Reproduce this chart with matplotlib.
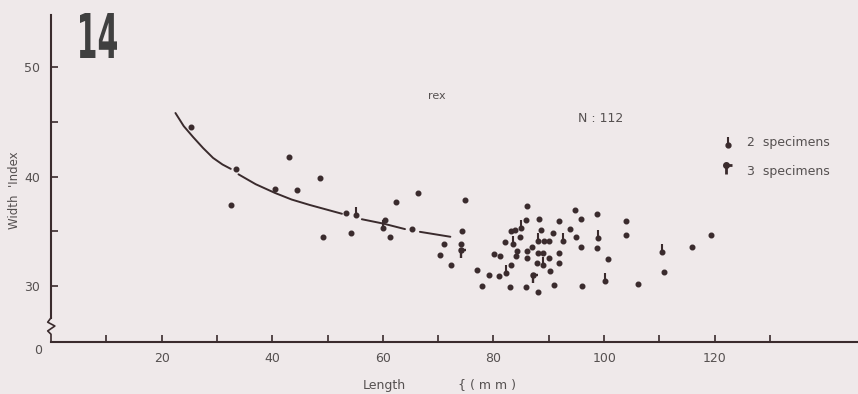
import matplotlib.pyplot as plt
import matplotlib.transforms as mtransforms
from matplotlib.path import Path
from matplotlib.patches import PathPatch
from matplotlib.textpath import TextPath
from matplotlib.font_manager import FontProperties

# single specimens: length (mm), width index
single_len = [25.3, 33.4, 32.5, 43.0, 48.7, 40.5, 44.4, 62.3, 53.3, 60.4, 61.3, 49.2, 54.3,
              66.3, 74.8, 65.2, 74.3, 71.1, 74.1, 70.3, 72.3, 77.1, 79.2, 81.0, 77.9, 80.1,
              81.2, 82.0, 83.1, 83.9, 85.9, 86.0, 84.8, 84.3, 84.0, 83.1, 83.0, 86.0, 86.0,
              85.8, 87.0, 88.2, 88.5, 89.1, 90.1, 90.8, 88.0, 88.9, 90.1, 87.8, 90.2, 88.1,
              90.9, 91.9, 91.9, 91.9, 93.9, 94.7, 95.9, 94.9, 95.8, 96.0, 98.7, 98.7, 100.7,
              104.0, 103.9, 106.1, 110.8, 115.9, 119.4]
single_wi = [44.55, 40.68, 37.4, 41.75, 39.9, 38.9, 38.77, 37.7, 36.64, 36.0, 34.45, 34.5, 34.8,
             38.5, 37.9, 35.2, 35.0, 33.8, 33.8, 32.8, 31.9, 31.5, 31.0, 30.9, 30.0, 32.9,
             32.7, 34.0, 35.0, 35.1, 36.0, 37.3, 34.5, 33.2, 32.7, 31.9, 29.9, 33.2, 32.6,
             29.9, 33.6, 36.1, 35.1, 34.1, 34.1, 34.8, 33.0, 33.0, 32.6, 32.1, 31.4, 29.5,
             30.1, 35.9, 33.0, 32.1, 35.2, 36.9, 36.1, 34.5, 33.6, 30.0, 36.6, 33.5, 32.5,
             35.9, 34.7, 30.2, 31.3, 33.6, 34.7]

# two specimens at one point
two_len = [55.2, 60.0, 84.9, 83.5, 82.3, 88.1, 89.0, 92.5, 98.9, 100.1, 110.4]
two_wi = [36.5, 35.3, 35.3, 33.8, 31.2, 34.1, 31.9, 34.1, 34.4, 30.5, 33.1]

# three specimens at one point
three_len = [74.1, 87.1]
three_wi = [33.3, 31.0]

# hand drawn curve, read in pieces (it is broken where it passes dots)
curve_len = [[22.5, 24.0, 25.7, 27.5, 29.3, 31.0, 32.5],
             [33.9, 37.0, 40.5, 43.5, 46.8, 49.7, 52.6],
             [56.2, 60.1, 64.0],
             [66.7, 72.2]]
curve_wi = [[45.8, 44.6, 43.6, 42.6, 41.7, 41.1, 40.7],
            [40.2, 39.3, 38.5, 37.9, 37.4, 37.0, 36.6],
            [36.1, 35.7, 35.2],
            [34.95, 34.5]]

x_ticks = list(range(10, 140, 10))
y_ticks = [30, 40, 50]
y_minor = [35, 45]

INK = '#3a2b2d'
TXT = '#555050'
BG = '#efe9ea'

fig = plt.figure(figsize=(8.58, 3.94), dpi=100, facecolor=BG)
ax = fig.add_axes([51 / 858, 1 - 342 / 394, 1 - 51 / 858, (342 - 15) / 394])
ax.set_facecolor(BG)
ax.set_xlim(0, 145.9)
ax.set_ylim(24.89, 54.75)

# markers: a stem for two specimens, a flag for three
stem = Path([(0, 0), (0, 1)], [Path.MOVETO, Path.LINETO])
flag = Path([(0.7, 0), (0, 0), (0, -1)], [Path.MOVETO, Path.LINETO, Path.LINETO])

ax.scatter(single_len, single_wi, s=11, color=INK, zorder=3)
ax.scatter(two_len, two_wi, s=11, color=INK, zorder=3)
ax.plot(two_len, two_wi, ls='none', marker=stem, ms=11, mew=1.5, mec=INK, mfc='none', zorder=3)
ax.scatter(three_len, three_wi, s=13, color=INK, zorder=3)
ax.plot(three_len, three_wi, ls='none', marker=flag, ms=11, mew=1.7, mec=INK, mfc='none',
        zorder=3)

for cx, cy in zip(curve_len, curve_wi):
    ax.plot(cx, cy, color=INK, lw=1.4, solid_capstyle='round', solid_joinstyle='round')

# spines
for s in ['top', 'right', 'left']:
    ax.spines[s].set_visible(False)
ax.spines['bottom'].set_color(INK)
ax.spines['bottom'].set_linewidth(1.5)

# left axis drawn by hand with the break near the bottom
ax.plot([0, 0], [54.75, 27.1], color=INK, lw=1.5, clip_on=False)
ax.plot([0, -0.6, 0.7, -0.6, 0, 0], [27.1, 26.7, 26.35, 25.9, 25.6, 24.89],
        color=INK, lw=1.2, clip_on=False)

ax.set_xticks(x_ticks)
ax.set_xticklabels([str(t) if t % 20 == 0 else '' for t in x_ticks])
ax.set_yticks(y_ticks)
ax.set_yticks(y_minor, minor=True)
ax.tick_params(axis='x', direction='in', length=5, width=1.2, color=INK,
               labelsize=9, labelcolor=TXT, pad=7)
ax.tick_params(axis='y', which='both', direction='in', length=5, width=1.2, color=INK,
               labelsize=9, labelcolor=TXT, pad=8)

fig.text(38 / 858, 1 - 350 / 394, '0', fontsize=9, color=TXT, ha='center', va='center')
fig.text(15 / 858, 1 - 190 / 394, "Width  'Index", rotation=90, fontsize=8.5,
         color=TXT, ha='center', va='center')
fig.text(384 / 858, 1 - 385 / 394, 'Length', fontsize=9, color=TXT, ha='center', va='center')
fig.text(487 / 858, 1 - 385 / 394, '{ ( m m )', fontsize=9, color=TXT, ha='center', va='center')

fig.text(437 / 858, 1 - 96 / 394, 'rex', fontsize=8, color=TXT, ha='center', va='center')
fig.text(601 / 858, 1 - 118 / 394, 'N : 112', fontsize=9, color=TXT, ha='center', va='center')
fig.text(747 / 858, 1 - 142 / 394, '2  specimens', fontsize=9, color=TXT, ha='left', va='center')
fig.text(747 / 858, 1 - 171 / 394, '3  specimens', fontsize=9, color=TXT, ha='left', va='center')

# legend markers
fig.lines.append(plt.Line2D([728 / 858], [1 - 145 / 394], transform=fig.transFigure,
                            ls='none', marker='o', ms=3.5, color=INK))
fig.lines.append(plt.Line2D([728 / 858], [1 - 145 / 394], transform=fig.transFigure,
                            ls='none', marker=stem, ms=11, mew=1.5, mec=INK, mfc='none'))
fig.lines.append(plt.Line2D([726 / 858], [1 - 165 / 394], transform=fig.transFigure,
                            ls='none', marker='o', ms=4, color=INK))
fig.lines.append(plt.Line2D([726 / 858], [1 - 165 / 394], transform=fig.transFigure,
                            ls='none', marker=flag, ms=13, mew=2, mec=INK, mfc='none'))

# plate number, tall and condensed
tp = TextPath((0, 0), '14', size=100, prop=FontProperties(family='DejaVu Sans', weight='bold'))
ext = tp.get_extents()
tr = mtransforms.Affine2D().translate(-ext.x0, -ext.y0).scale(37 / ext.width, 45 / ext.height) \
    .translate(80, 394 - 58)
fig.patches.append(PathPatch(tr.transform_path(tp), facecolor='#404040', edgecolor='none',
                             transform=mtransforms.IdentityTransform()))

fig.savefig('out.png', dpi=100, facecolor=BG)
